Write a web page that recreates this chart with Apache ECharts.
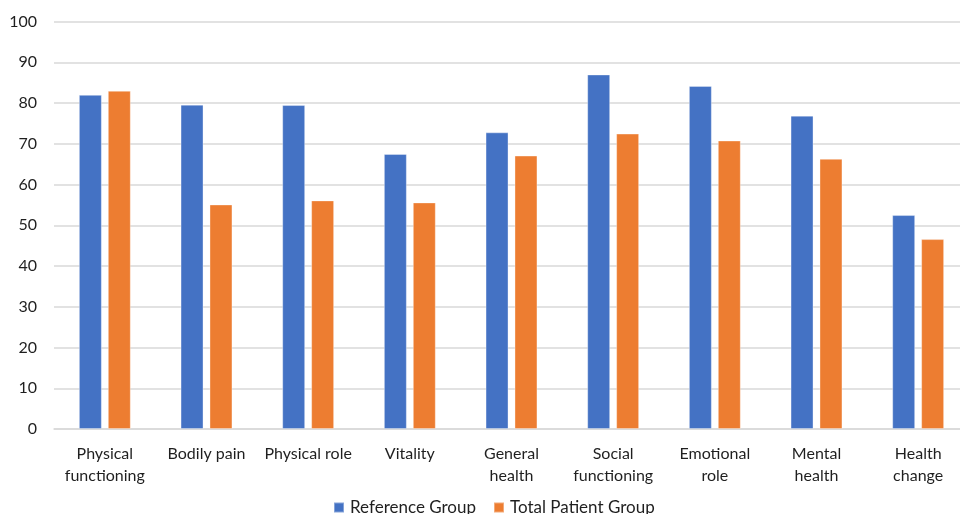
<!DOCTYPE html>
<html>
<head>
<meta charset="utf-8">
<script src="https://cdn.jsdelivr.net/npm/echarts@6/dist/echarts.min.js"></script>
<style>html,body{margin:0;padding:0;background:#fff}#chart{width:960px;height:514px}</style>
</head>
<body>
<div id="chart"></div>
<script>
const categories = ['Physical\nfunctioning', 'Bodily pain', 'Physical role', 'Vitality', 'General\nhealth', 'Social\nfunctioning', 'Emotional\nrole', 'Mental\nhealth', 'Health\nchange'];
const referenceGroup = [82.0, 79.6, 79.5, 67.5, 72.8, 87.0, 84.2, 76.9, 52.5];
const totalPatientGroup = [83.0, 55.1, 56.1, 55.6, 67.1, 72.5, 70.8, 66.3, 46.6];
const seriesNames = ['Reference Group', 'Total Patient Group'];

const font = 'Lato';
const textColor = '#1f1f1f';
const chart = echarts.init(document.getElementById('chart'));
chart.setOption({
  animation: false,
  grid: { left: 54, width: 915, top: 21.5, height: 407.5, containLabel: false, outerBoundsMode: 'none' },
  legend: {
    bottom: -7, left: 328, itemWidth: 10, itemHeight: 10, itemGap: 17,
    icon: 'rect',
    textStyle: { fontFamily: font, fontSize: 17, color: textColor, padding: [0, 0, 0, 1] },
    data: seriesNames
  },
  xAxis: {
    type: 'category', data: categories,
    axisLine: { show: true, lineStyle: { color: '#d9d9d9', width: 1.5 } },
    axisTick: { show: false },
    axisLabel: { fontFamily: font, fontSize: 16, color: textColor, lineHeight: 22, margin: 14, interval: 0 }
  },
  yAxis: {
    type: 'value', min: 0, max: 100, interval: 10,
    axisLine: { show: false }, axisTick: { show: false },
    axisLabel: { fontFamily: font, fontSize: 16, color: textColor, margin: 17 },
    splitLine: { lineStyle: { color: '#d9d9d9', width: 1.5 } }
  },
  series: [
    { name: seriesNames[0], type: 'bar', data: referenceGroup, barWidth: '22.6%', barGap: '26%',
      itemStyle: { color: '#4472C4', borderColor: 'rgba(255,255,255,0.35)', borderWidth: 1 } },
    { name: seriesNames[1], type: 'bar', data: totalPatientGroup, barWidth: '22.6%',
      itemStyle: { color: '#ED7D31', borderColor: 'rgba(255,255,255,0.35)', borderWidth: 1 } }
  ]
});
</script>
</body>
</html>
